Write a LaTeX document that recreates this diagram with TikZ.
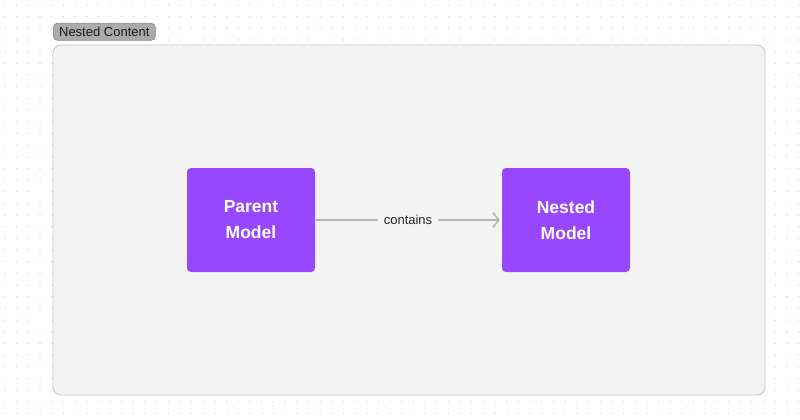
\documentclass[tikz,border=0pt]{standalone}
\usepackage{fontspec}
\setmainfont{Liberation Sans}
\usetikzlibrary{arrows.meta,positioning}

\definecolor{figpurple}{HTML}{9747FF}
\definecolor{panelfill}{HTML}{F3F3F3}
\definecolor{paneldraw}{HTML}{C6C6C6}
\definecolor{tagfill}{HTML}{ABABAB}
\definecolor{tagdraw}{HTML}{8C8C8C}
\definecolor{linkgray}{HTML}{B4B4B4}
\definecolor{dotgray}{HTML}{D2D2D2}

\begin{document}
\begin{tikzpicture}[
  x=1pt, y=-1pt,
  model/.style={fill=figpurple, rounded corners=4pt, minimum width=128pt, minimum height=104pt,
    align=center, text=white, font=\fontsize{17.5}{26}\selectfont\bfseries, inner sep=0pt},
  panel/.style={fill=panelfill, draw=paneldraw, line width=0.8pt, rounded corners=8pt},
  tag/.style={fill=tagfill, draw=tagdraw, line width=0.6pt, rounded corners=4pt,
    minimum width=102pt, minimum height=17pt, inner sep=0pt, text=black!90, font=\fontsize{13}{14}\selectfont},
  link/.style={draw=linkgray, line width=1.6pt, -{Straight Barb[length=6pt,width=15pt,line width=1.6pt]}},
  lab/.style={fill=panelfill, inner xsep=6pt, inner ysep=2pt, text=black!85, font=\fontsize{13}{14}\selectfont}
]
\useasboundingbox (0,0) rectangle (800,420);

% ---- dot grid ----
\foreach \i in {0,...,68}
  \foreach \j in {0,...,35}
    {\fill[dotgray] (5+11.67*\i,5+11.67*\j) circle (0.7pt);}

% ---- container ----
\draw[panel] (53,45) rectangle (765,395);
\node[tag, anchor=north west] (grouptag) at (53,23) {Nested Content};

% ---- models ----
\node[model] (parent) at (251,220) {Parent\\Model};
\node[model] (nested) at (566,220) {Nested\\Model};

% ---- relation ----
\draw[link] ([xshift=1pt]parent.east) -- node[lab] (rel) {contains} ([xshift=-2pt]nested.west);

\end{tikzpicture}
\end{document}
